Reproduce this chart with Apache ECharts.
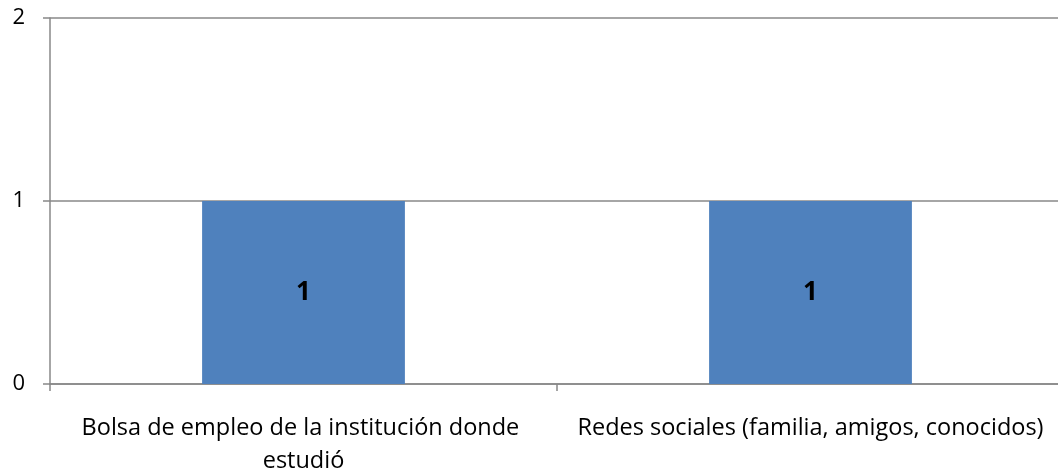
<!DOCTYPE html>
<html>
<head>
<meta charset="utf-8">
<script src="https://cdn.jsdelivr.net/npm/echarts@6/dist/echarts.min.js"></script>
<style>
  html, body { margin: 0; padding: 0; background: #fff; }
  #chart { width: 1058px; height: 473px; }
</style>
</head>
<body>
<div id="chart"></div>
<script>
// Categories and counts
var categories = [
    'Bolsa de empleo de la institución donde estudió',
    'Redes sociales (familia, amigos, conocidos)'
];
var counts = [1, 1];
var yTicks = [0, 1, 2];

var barColor = '#4f81bd';
var axisGray = '#888888';

var chart = echarts.init(document.getElementById('chart'));

var option = {
    animation: false,
    textStyle: { fontFamily: 'Open Sans' },
    grid: {
        left: 50,
        top: 18,
        width: 1014,
        height: 366,
        outerBoundsMode: 'none'
    },
    xAxis: {
        type: 'category',
        data: categories,
        axisLine: { lineStyle: { color: axisGray, width: 1.5 } },
        axisTick: { show: true, length: 7, lineStyle: { color: axisGray, width: 1.5 } },
        axisLabel: {
            color: '#000',
            fontSize: 23.5,
            lineHeight: 33,
            margin: 28,
            width: 480,
            overflow: 'break',
            interval: 0
        }
    },
    yAxis: {
        type: 'value',
        min: yTicks[0],
        max: yTicks[yTicks.length - 1],
        interval: 1,
        axisLine: { show: true, lineStyle: { color: axisGray, width: 1.5 } },
        axisTick: { show: true, length: 7, lineStyle: { color: axisGray, width: 1.5 } },
        splitLine: { lineStyle: { color: axisGray, width: 1.5 } },
        axisLabel: { color: '#000', fontSize: 22, margin: 25 }
    },
    series: [
        {
            type: 'bar',
            data: counts,
            barWidth: '40%',
            itemStyle: { color: barColor },
            label: {
                show: true,
                position: 'inside',
                color: '#000',
                fontSize: 26,
                fontWeight: 'bold'
            }
        }
    ]
};

chart.setOption(option);
</script>
</body>
</html>
